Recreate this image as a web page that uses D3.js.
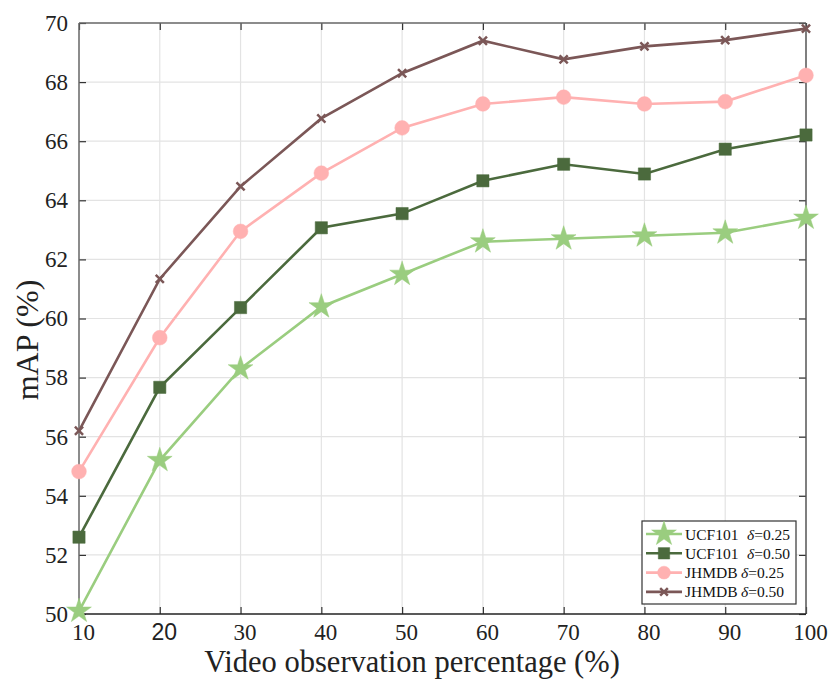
<!DOCTYPE html>
<html><head><meta charset="utf-8">
<script src="https://cdn.jsdelivr.net/npm/d3@7"></script>
<style>body{margin:0;background:#fff}</style>
</head><body>
<svg id="c" width="835" height="681"></svg>
<script>
const xValues = [10,20,30,40,50,60,70,80,90,100];
const ucf025 = [50.1,55.2,58.3,60.4,61.5,62.6,62.7,62.8,62.9,63.4];
const ucf050 = [52.6,57.67,60.37,63.07,63.55,64.66,65.22,64.89,65.73,66.21];
const jh025 = [54.82,59.35,62.95,64.92,66.45,67.26,67.49,67.26,67.34,68.23];
const jh050 = [56.2,61.34,64.47,66.77,68.3,69.4,68.77,69.21,69.42,69.81];
const xTicks = [10,20,30,40,50,60,70,80,90,100];
const yTicks = [50,52,54,56,58,60,62,64,66,68,70];
const series = [
  {name:"UCF101", d:"0.25", v:ucf025, color:"#9acd7f", sym:"star"},
  {name:"UCF101", d:"0.50", v:ucf050, color:"#4b6a3d", sym:"square"},
  {name:"JHMDB", d:"0.25", v:jh025, color:"#ffb1b1", sym:"circle"},
  {name:"JHMDB", d:"0.50", v:jh050, color:"#7b5757", sym:"x"}
];
const svg = d3.select("#c");
const L=79,R=806,T=23,B=614;
const x = d3.scaleLinear().domain([10,100]).range([L,R]);
const y = d3.scaleLinear().domain([50,70]).range([B,T]);
const serif = "'Liberation Serif','Times New Roman',serif";

// grid
svg.append("g").selectAll("line").data(xTicks.slice(1,-1)).join("line")
  .attr("x1",d=>x(d)).attr("x2",d=>x(d)).attr("y1",T).attr("y2",B)
  .attr("stroke","#e3e3e3").attr("stroke-width",1.2);
svg.append("g").selectAll("line").data(yTicks.slice(1,-1)).join("line")
  .attr("y1",d=>y(d)).attr("y2",d=>y(d)).attr("x1",L).attr("x2",R)
  .attr("stroke","#e3e3e3").attr("stroke-width",1.2);

// axes (ticks inward)
const ax = (g, axis) => { g.call(axis); g.select(".domain").remove(); g.selectAll(".tick line").attr("stroke","#333").attr("stroke-width",1.2); };
const gBottom = svg.append("g").attr("transform",`translate(0,${B})`);
ax(gBottom, d3.axisBottom(x).tickValues(xTicks).tickSize(-7).tickPadding(0));
gBottom.selectAll("text")
  .attr("font-family",d=>d===20?"'Liberation Sans',Arial,sans-serif":serif)
  .attr("font-size",23).attr("fill","#222")
  .attr("x",4).attr("y",25.5).attr("dy",null);
const gTop = svg.append("g").attr("transform",`translate(0,${T})`);
ax(gTop, d3.axisTop(x).tickValues(xTicks).tickSize(-7).tickFormat(""));
const gLeft = svg.append("g").attr("transform",`translate(${L},0)`);
ax(gLeft, d3.axisLeft(y).tickValues(yTicks).tickSize(-7).tickPadding(11));
gLeft.selectAll("text").attr("font-family",serif).attr("font-size",23).attr("fill","#222");
const gRight = svg.append("g").attr("transform",`translate(${R},0)`);
ax(gRight, d3.axisRight(y).tickValues(yTicks).tickSize(-7).tickFormat(""));

// frame
svg.append("line").attr("x1",L).attr("x2",R).attr("y1",T).attr("y2",T).attr("stroke","#666").attr("stroke-width",1.5);
svg.append("line").attr("x1",R).attr("x2",R).attr("y1",T).attr("y2",B).attr("stroke","#555").attr("stroke-width",1.5);
svg.append("line").attr("x1",L).attr("x2",L).attr("y1",T).attr("y2",B).attr("stroke","#666").attr("stroke-width",1.5);
svg.append("line").attr("x1",L).attr("x2",R).attr("y1",B).attr("y2",B).attr("stroke","#222").attr("stroke-width",1.5);

const symType = {star:d3.symbolStar, square:d3.symbolSquare, circle:d3.symbolCircle, x:d3.symbolX};
const symSize = {star:190, square:150, circle:170, x:45};
const line = d3.line().x((d,i)=>x(xValues[i])).y(d=>y(d));
series.forEach(s=>{
  const g = svg.append("g");
  g.append("path").attr("d",line(s.v)).attr("fill","none").attr("stroke",s.color).attr("stroke-width",2.6);
  g.selectAll("path.m").data(s.v).join("path").attr("class","m")
    .attr("transform",(d,i)=>`translate(${x(xValues[i])},${y(d)})`)
    .attr("d",d3.symbol(symType[s.sym], symSize[s.sym])())
    .attr("fill",s.sym==="x"?"none":s.color)
    .attr("stroke",s.color).attr("stroke-width",s.sym==="x"?2.5:0.5);
});

// legend
const lg = svg.append("g");
lg.append("rect").attr("x",642).attr("y",521).attr("width",154).attr("height",83)
  .attr("fill","#fff").attr("stroke","#333").attr("stroke-width",1.2);
series.forEach((s,i)=>{
  const yy = 534 + i*19.3;
  lg.append("line").attr("x1",646).attr("x2",682).attr("y1",yy).attr("y2",yy).attr("stroke",s.color).attr("stroke-width",2.6);
  lg.append("path").attr("transform",`translate(664,${yy})`)
    .attr("d",d3.symbol(symType[s.sym], s.sym==="x"?40:(s.sym==="star"?190:130))())
    .attr("fill",s.sym==="x"?"none":s.color).attr("stroke",s.color).attr("stroke-width",s.sym==="x"?2.5:0.5);
  const t = lg.append("text").attr("x",685).attr("y",yy+5.5).attr("font-family",serif).attr("font-size",15.5).attr("fill","#111");
  t.append("tspan").text(s.name);
  t.append("tspan").attr("x", s.name==="UCF101"?747:741).attr("font-style","italic").text("δ");
  t.append("tspan").text("=" + s.d);
});

// labels
svg.append("text").attr("x",412).attr("y",672).attr("text-anchor","middle")
  .attr("font-family",serif).attr("font-size",30.5).attr("fill","#222").text("Video observation percentage (%)");
svg.append("text").attr("transform","translate(38,340) rotate(-90)").attr("text-anchor","middle")
  .attr("font-family",serif).attr("font-size",32).attr("fill","#222").text("mAP (%)");
</script>
</body></html>
